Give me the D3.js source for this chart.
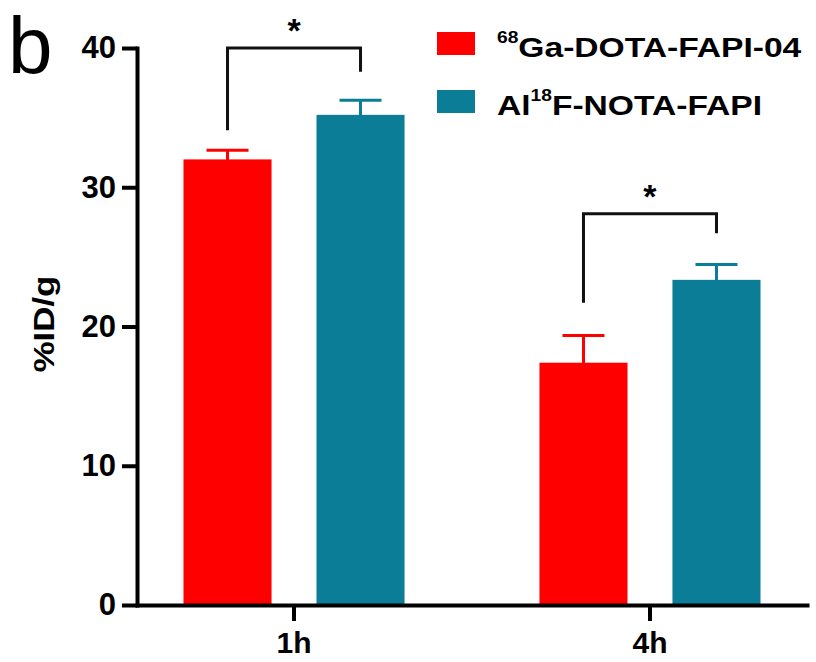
<!DOCTYPE html>
<html>
<head>
<meta charset="utf-8">
<script src="https://cdn.jsdelivr.net/npm/d3@7"></script>
<style>
  body { margin: 0; background: #fff; }
  text { font-family: Arial, "Liberation Sans", sans-serif; }
</style>
</head>
<body>
<svg width="816" height="662"></svg>
<script>
// data
var groups = ["1h", "4h"];
var series = ["ga", "al"];
var seriesColor = ["#ff0000", "#0b7d97"];
var gaMean = [32.0, 17.4];
var gaErr = [0.65, 1.95];
var alMean = [35.2, 23.35];
var alErr = [1.05, 1.1];
var yTicks = [0, 10, 20, 30, 40];
// significance brackets: [top, left end, right end] in %ID/g
var bracketTop = [40, 28.1];
var bracketLeft = [34.1, 21.7];
var bracketRight = [38.3, 26.7];

var svg = d3.select("svg");

var y = d3.scaleLinear().domain([0, 40]).range([605, 48]);
var x0 = d3.scaleBand().domain(groups).range([137, 807])
    .paddingInner(0.379).paddingOuter(0.1306);
var x1 = d3.scaleBand().domain(series).range([0, x0.bandwidth()])
    .paddingInner(0.338);
var color = d3.scaleOrdinal().domain(series).range(seriesColor);

var bars = [];
groups.forEach(function(g, i) {
  bars.push({group: g, s: "ga", v: gaMean[i], e: gaErr[i]});
  bars.push({group: g, s: "al", v: alMean[i], e: alErr[i]});
});

function cx(d) { return x0(d.group) + x1(d.s) + x1.bandwidth() / 2; }

// error bars (drawn under the bars so only the upper half shows)
var err = svg.append("g").selectAll("g").data(bars).enter().append("g")
    .attr("stroke", function(d) { return color(d.s); })
    .attr("stroke-width", 3);
err.append("line")
    .attr("x1", cx).attr("x2", cx)
    .attr("y1", function(d) { return y(d.v) + 2; })
    .attr("y2", function(d) { return y(d.v + d.e); });
err.append("line")
    .attr("x1", function(d) { return cx(d) - 21; })
    .attr("x2", function(d) { return cx(d) + 21; })
    .attr("y1", function(d) { return y(d.v + d.e); })
    .attr("y2", function(d) { return y(d.v + d.e); });

svg.append("g").selectAll("rect").data(bars).enter().append("rect")
    .attr("x", function(d) { return x0(d.group) + x1(d.s); })
    .attr("width", x1.bandwidth())
    .attr("y", function(d) { return y(d.v); })
    .attr("height", function(d) { return y(0) - y(d.v); })
    .attr("fill", function(d) { return color(d.s); });

// significance brackets
groups.forEach(function(g, i) {
  var xl = x0(g) + x1("ga") + x1.bandwidth() / 2;
  var xr = x0(g) + x1("al") + x1.bandwidth() / 2;
  svg.append("path")
      .attr("d", "M" + xl + "," + y(bracketLeft[i]) + "V" + y(bracketTop[i]) +
                 "H" + xr + "V" + y(bracketRight[i]))
      .attr("fill", "none").attr("stroke", "#111").attr("stroke-width", 3);
  svg.append("text")
      .attr("x", x0(g) + x0.bandwidth() / 2)
      .attr("y", y(bracketTop[i]) - 6)
      .attr("text-anchor", "middle")
      .attr("font-size", 34).attr("font-weight", "bold")
      .text("*");
});

// axes
var yAxis = svg.append("g").attr("transform", "translate(137,0)")
    .call(d3.axisLeft(y).tickValues(yTicks).tickSize(15).tickSizeOuter(0).tickPadding(6));
var xAxis = svg.append("g").attr("transform", "translate(0,605)")
    .call(d3.axisBottom(x0).tickSize(16).tickSizeOuter(0).tickPadding(11));

[yAxis, xAxis].forEach(function(a) {
  a.select(".domain").attr("stroke", "#000").attr("stroke-width", 4)
      .attr("stroke-linecap", "square");
  a.selectAll(".tick line").attr("stroke", "#000").attr("stroke-width", 4);
  a.selectAll(".tick text").attr("fill", "#000")
      .attr("font-size", 31).attr("font-weight", "bold")
      .style("font-family", "Arial, 'Liberation Sans', sans-serif");
});
xAxis.selectAll(".tick text").attr("font-size", 30);

svg.append("text")
    .attr("transform", "translate(54,324) rotate(-90) scale(1.2,1)")
    .attr("text-anchor", "middle")
    .attr("font-size", 29).attr("font-weight", "bold")
    .text("%ID/g");

// panel letter
svg.append("text").attr("x", 8).attr("y", 73)
    .attr("font-size", 80).text("b");

// legend
var legend = svg.append("g").selectAll("g").data(series).enter().append("g")
    .attr("transform", function(d, i) { return "translate(437," + (32 + i * 58) + ")"; });
legend.append("rect").attr("width", 38).attr("height", 23)
    .attr("fill", function(d) { return color(d); });
var lt = legend.append("text")
    .attr("transform", "translate(60,25) scale(1.2,1)")
    .attr("font-size", 28).attr("font-weight", "bold");
lt.filter(function(d) { return d === "ga"; }).each(function() {
  var t = d3.select(this);
  t.append("tspan").attr("font-size", 16).attr("dy", -14).text("68");
  t.append("tspan").attr("dy", 14).text("Ga-DOTA-FAPI-04");
});
lt.filter(function(d) { return d === "al"; }).each(function() {
  var t = d3.select(this);
  t.append("tspan").text("Al");
  t.append("tspan").attr("font-size", 16).attr("dy", -14).text("18");
  t.append("tspan").attr("dy", 14).text("F-NOTA-FAPI");
});
</script>
</body>
</html>
